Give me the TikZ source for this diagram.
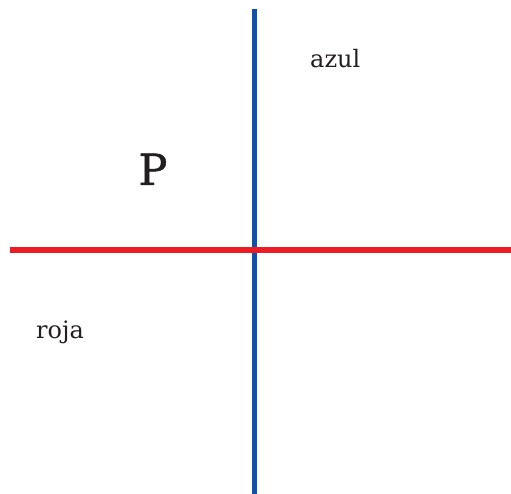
\documentclass[tikz,border=0pt]{standalone}
\usepackage{fontspec}
\setmainfont{DejaVu Serif}
\newfontfamily\pfont{DejaVu Serif}[FakeBold=1]
\definecolor{axblue}{RGB}{14,80,170}
\definecolor{axred}{RGB}{237,28,36}
\definecolor{ink}{RGB}{35,31,32}
\begin{document}
\begin{tikzpicture}[x=1pt,y=1pt,
  lbl/.style={inner sep=0pt,text=ink,font=\fontsize{24}{28}\selectfont},
  axisline/.style={line width=5.3pt}]
\useasboundingbox (0,0) rectangle (511,494);
\coordinate (bt) at (254.6,485);
\coordinate (bb) at (254.6,0);
\coordinate (rl) at (9.5,244);
\coordinate (rr) at (511,244);
\draw[axisline,axblue] (bt) -- (bb);
\draw[axisline,axred,line width=5.8pt] (rl) -- (rr);
\node[lbl,anchor=base west] (azul) at (310,426.7) {azul};
\node[lbl,anchor=base west] (roja) at (36,155) {roja};
\node[inner sep=0pt,text=ink,font=\pfont\fontsize{43}{50}\selectfont,anchor=base] (p) at (153,309) {P};
\end{tikzpicture}
\end{document}
